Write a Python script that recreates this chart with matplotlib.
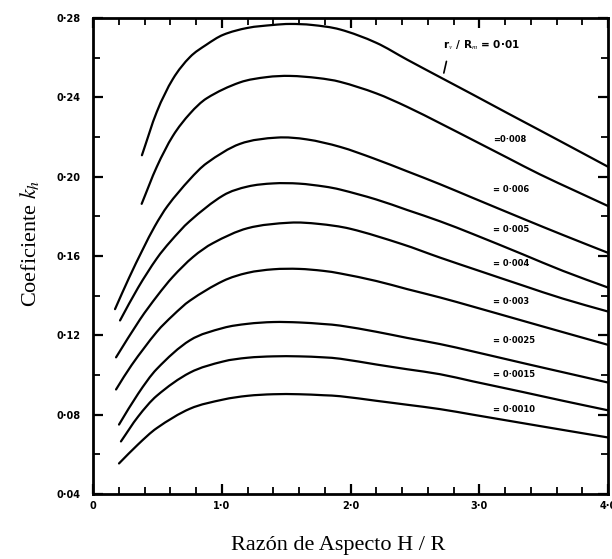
import matplotlib
matplotlib.use("Agg")
import matplotlib.pyplot as plt
from matplotlib.path import Path
from matplotlib.patches import PathPatch
from matplotlib.ticker import MultipleLocator, FixedLocator

plt.rcParams['mathtext.fontset'] = 'stix'

# Aspect ratio H/R and coefficient k_h for each r_v/R_m curve
x_0100 = [0.38, 0.495, 0.62, 0.753, 0.88, 1.01, 1.20, 1.40, 1.53, 1.70, 1.92, 2.20, 2.44, 2.70, 2.95, 3.22, 3.47, 3.75, 4.0]
k_0100 = [0.2108, 0.2326, 0.2492, 0.2603, 0.2665, 0.2715, 0.2750, 0.2765, 0.2770, 0.2765, 0.2742, 0.2675, 0.2590, 0.2500, 0.2414, 0.2320, 0.2234, 0.2137, 0.2050]

x_0080 = [0.378, 0.495, 0.62, 0.753, 0.883, 1.14, 1.35, 1.53, 1.75, 1.92, 2.20, 2.44, 2.70, 2.95, 3.22, 3.47, 3.75, 4.0]
k_0080 = [0.1863, 0.2049, 0.2205, 0.2318, 0.2395, 0.2475, 0.2502, 0.2508, 0.2497, 0.2478, 0.2420, 0.2352, 0.2268, 0.2185, 0.2095, 0.2012, 0.1927, 0.1852]

x_0060 = [0.171, 0.28, 0.388, 0.48, 0.58, 0.75, 0.883, 1.14, 1.43, 1.66, 1.92, 2.18, 2.44, 2.695, 2.95, 3.34, 3.65, 4.0]
k_0060 = [0.1332, 0.1490, 0.1635, 0.1750, 0.1853, 0.1985, 0.2068, 0.2165, 0.2197, 0.2188, 0.2150, 0.2092, 0.2027, 0.1962, 0.1893, 0.1788, 0.1706, 0.1616]

x_0050 = [0.21, 0.35, 0.495, 0.60, 0.75, 1.01, 1.20, 1.40, 1.60, 1.80, 1.92, 2.20, 2.44, 2.695, 2.95, 3.34, 3.65, 4.0]
k_0050 = [0.1275, 0.1440, 0.1587, 0.1672, 0.1775, 0.1905, 0.1950, 0.1966, 0.1965, 0.1950, 0.1935, 0.1885, 0.1832, 0.1775, 0.1711, 0.1608, 0.1525, 0.1441]

x_0040 = [0.179, 0.365, 0.50, 0.62, 0.777, 0.932, 1.20, 1.53, 1.75, 2.00, 2.40, 2.695, 3.00, 3.34, 3.65, 4.0]
k_0040 = [0.1089, 0.1280, 0.1400, 0.1495, 0.1595, 0.1665, 0.1740, 0.1768, 0.1762, 0.1737, 0.1660, 0.1592, 0.1525, 0.1451, 0.1385, 0.1320]

x_0030 = [0.179, 0.30, 0.495, 0.62, 0.753, 1.01, 1.20, 1.40, 1.60, 1.79, 1.92, 2.20, 2.44, 2.695, 2.95, 3.34, 3.65, 4.0]
k_0030 = [0.0927, 0.1050, 0.1217, 0.1300, 0.1375, 0.1474, 0.1515, 0.1533, 0.1535, 0.1525, 0.1512, 0.1474, 0.1433, 0.1391, 0.1345, 0.1273, 0.1216, 0.1152]

x_0025 = [0.202, 0.35, 0.495, 0.753, 1.01, 1.20, 1.40, 1.60, 1.79, 1.92, 2.20, 2.44, 2.695, 2.95, 3.34, 3.65, 4.0]
k_0025 = [0.0750, 0.0905, 0.1030, 0.1175, 0.1237, 0.1258, 0.1267, 0.1265, 0.1257, 0.1249, 0.1218, 0.1187, 0.1156, 0.1119, 0.1060, 0.1014, 0.0962]

x_0015 = [0.217, 0.35, 0.495, 0.753, 1.01, 1.20, 1.40, 1.60, 1.79, 1.92, 2.20, 2.44, 2.695, 2.95, 3.34, 3.65, 4.0]
k_0015 = [0.0665, 0.0790, 0.0895, 0.1012, 0.1068, 0.1087, 0.1094, 0.1094, 0.1089, 0.1082, 0.1053, 0.1029, 0.1004, 0.0968, 0.0914, 0.0870, 0.0822]

x_0010 = [0.202, 0.35, 0.495, 0.753, 1.01, 1.20, 1.40, 1.60, 1.79, 1.92, 2.20, 2.44, 2.695, 2.95, 3.34, 3.65, 4.0]
k_0010 = [0.0554, 0.0650, 0.0732, 0.0830, 0.0876, 0.0895, 0.0903, 0.0903, 0.0898, 0.0893, 0.0870, 0.0850, 0.0828, 0.0800, 0.0757, 0.0723, 0.0685]

# Curve labels and where they sit (left edge x, centre y)
curve_labels = ["=0·008", "= 0·006", "= 0·005", "= 0·004", "= 0·003", "= 0·0025", "= 0·0015", "= 0·0010"]
label_x = 3.107
label_y = [0.2187, 0.1934, 0.1733, 0.1562, 0.1370, 0.1174, 0.1003, 0.0826]

x_ticks = [0, 1, 2, 3, 4]
x_tick_labels = ["0", "1·0", "2·0", "3·0", "4·0"]
y_ticks = [0.04, 0.08, 0.12, 0.16, 0.20, 0.24, 0.28]
y_tick_labels = ["0·04", "0·08", "0·12", "0·16", "0·20", "0·24", "0·28"]


def smooth_path(xs, ys):
    """Cubic Bezier path through the points, tangents from neighbouring points."""
    n = len(xs)
    slopes = []
    for i in range(n):
        if i == 0:
            m = (ys[1] - ys[0]) / (xs[1] - xs[0])
        elif i == n - 1:
            m = (ys[-1] - ys[-2]) / (xs[-1] - xs[-2])
        else:
            m = (ys[i + 1] - ys[i - 1]) / (xs[i + 1] - xs[i - 1])
        slopes.append(m)
    verts = [(xs[0], ys[0])]
    codes = [Path.MOVETO]
    for i in range(n - 1):
        h = xs[i + 1] - xs[i]
        verts += [(xs[i] + h / 3, ys[i] + slopes[i] * h / 3),
                  (xs[i + 1] - h / 3, ys[i + 1] - slopes[i + 1] * h / 3),
                  (xs[i + 1], ys[i + 1])]
        codes += [Path.CURVE4] * 3
    return Path(verts, codes)


fig = plt.figure(figsize=(6.12, 5.59), dpi=100)
ax = fig.add_axes([93 / 612, 1 - 494 / 559, 515 / 612, 476 / 559])

series = [(x_0100, k_0100), (x_0080, k_0080), (x_0060, k_0060), (x_0050, k_0050),
          (x_0040, k_0040), (x_0030, k_0030), (x_0025, k_0025), (x_0015, k_0015),
          (x_0010, k_0010)]
for xs, ks in series:
    ax.add_patch(PathPatch(smooth_path(xs, ks), facecolor='none', edgecolor='black',
                           lw=1.6, capstyle='round', joinstyle='round'))

ax.set_xlim(0, 4.0)
ax.set_ylim(0.04, 0.28)

ax.xaxis.set_major_locator(FixedLocator(x_ticks))
ax.set_xticklabels(x_tick_labels)
ax.xaxis.set_minor_locator(MultipleLocator(0.2))
ax.yaxis.set_major_locator(FixedLocator(y_ticks))
ax.set_yticklabels(y_tick_labels)
ax.yaxis.set_minor_locator(MultipleLocator(0.02))

ax.tick_params(which='both', direction='in', top=True, right=True, color='black')
ax.tick_params(which='major', length=7, width=1.6)
ax.tick_params(which='minor', length=5, width=1.3)
ax.tick_params(axis='y', which='major', pad=9)
ax.tick_params(axis='x', which='major', pad=5)
for lab in ax.get_xticklabels() + ax.get_yticklabels():
    lab.set_fontsize(7)
    lab.set_fontweight('bold')
    lab.set_family('DejaVu Sans')

for sp in ax.spines.values():
    sp.set_linewidth(2.0)

ax.set_xlabel("Razón de Aspecto H / R", family='Liberation Serif', fontsize=16)
ax.xaxis.set_label_coords(0.476, -0.088)
ax.set_ylabel("Coeficiente $k_h$", family='Liberation Serif', fontsize=16)
ax.yaxis.set_label_coords(-0.100, 0.527)

# Curve annotations
ax.text(2.72, 0.2664, r"r$_v$ / R$_m$ = 0·01", fontsize=7.5, fontweight='bold',
        ha='left', va='center')
ax.annotate("", xy=(2.72, 0.2509), xytext=(2.75, 0.2595),
            arrowprops=dict(arrowstyle='-', color='black', lw=1.2))
for txt, yv in zip(curve_labels, label_y):
    ax.text(label_x, yv, txt, fontsize=6, fontweight='bold', ha='left', va='center')

fig.savefig("out.png", dpi=100)
